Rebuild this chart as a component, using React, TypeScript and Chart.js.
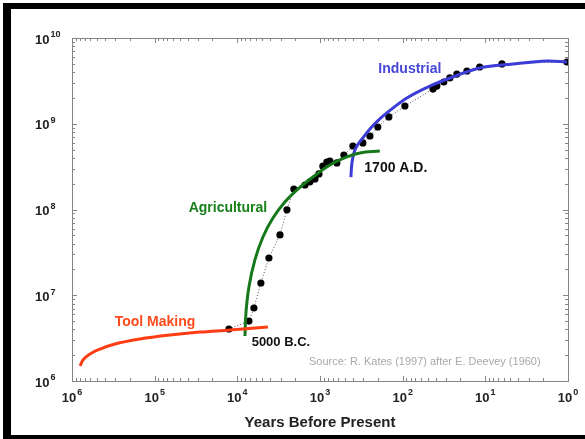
import React, { useEffect, useRef } from 'react';
import { Chart, registerables } from 'chart.js';
Chart.register(...registerables);

// Population observations (years before present, population)
const popYears = [12650, 7240, 6300, 5190, 4150, 3050, 2510, 2070, 1520, 1325, 1150, 1030, 923, 826, 759, 625, 514, 400, 303, 249, 200, 147, 94, 43, 38.6, 31.8, 26.9, 22.1, 16.7, 11.7, 6.3, 1.03];
const popValues = [4.04e6, 5.0e6, 7.1e6, 1.39e7, 2.72e7, 5.05e7, 9.9e7, 1.73e8, 1.93e8, 2.1e8, 2.27e8, 2.6e8, 3.2e8, 3.58e8, 3.68e8, 3.49e8, 4.32e8, 5.5e8, 5.97e8, 7.2e8, 9.16e8, 1.2e9, 1.61e9, 2.54e9, 2.75e9, 3.07e9, 3.42e9, 3.8e9, 4.12e9, 4.59e9, 4.98e9, 5.25e9];

// Tool making curve
const toolYears = [8.0e5, 7.36e5, 6.05e5, 4.58e5, 3.02e5, 1.51e5, 6.5e4, 2.83e4, 1.23e4, 4270];
const toolValues = [1.5e6, 1.76e6, 2.07e6, 2.36e6, 2.7e6, 3.09e6, 3.44e6, 3.72e6, 3.93e6, 4.27e6];

// Agricultural curve
const agriYears = [8090, 7870, 7240, 6130, 4900, 3710, 2660, 1900, 1220, 759, 473, 330, 189];
const agriValues = [3.35e6, 6.2e6, 1.25e7, 2.58e7, 4.78e7, 7.96e7, 1.22e8, 1.69e8, 2.39e8, 3.3e8, 4.1e8, 4.56e8, 4.81e8];

// Industrial curve
const indYears = [423, 411, 389, 358, 311, 249, 189, 135, 89, 46.9, 24.7, 11.7, 4.65, 1.8, 1.03];
const indValues = [2.39e8, 3.48e8, 4.56e8, 5.51e8, 6.64e8, 8.69e8, 1.14e9, 1.49e9, 2.0e9, 2.75e9, 3.51e9, 4.47e9, 4.98e9, 5.4e9, 5.25e9];

// Axis decades (exponents)
const xExponents = [6, 5, 4, 3, 2, 1, 0];
const yExponents = [6, 7, 8, 9, 10];

const xTitle = 'Years Before Present';
const labels = [
  { text: 'Industrial', x: 81.9, y: 4.35e9, color: '#4646d8', font: 'bold 14px "Liberation Sans", Arial, sans-serif' },
  { text: 'Agricultural', x: 1.3e4, y: 1.04e8, color: '#18801a', font: 'bold 14px "Liberation Sans", Arial, sans-serif' },
  { text: '1700 A.D.', x: 121, y: 3.05e8, color: '#111', font: 'bold 14px "Liberation Sans", Arial, sans-serif' },
  { text: 'Tool Making', x: 9.9e4, y: 4.88e6, color: '#ff4a1c', font: 'bold 14px "Liberation Sans", Arial, sans-serif' },
  { text: '5000 B.C.', x: 2970, y: 2.85e6, color: '#111', font: 'bold 13px "Liberation Sans", Arial, sans-serif' },
  { text: 'Source: R. Kates (1997) after E. Deevey (1960)', x: 54, y: 1.67e6, color: '#a8a8a8', font: '11px "Liberation Sans", Arial, sans-serif' },
];

const toXY = (xs: number[], ys: number[]) => xs.map((v, i) => ({ x: v, y: ys[i] }));

const FONT = '"Liberation Sans", Arial, sans-serif';

const drawPow = (ctx: CanvasRenderingContext2D, exp: number, x: number, y: number, align: 'left' | 'center') => {
  ctx.font = `bold 13px ${FONT}`;
  const wb = ctx.measureText('10').width;
  ctx.font = `bold 9px ${FONT}`;
  const we = ctx.measureText(String(exp)).width;
  const total = wb + 1 + we;
  const x0 = align === 'center' ? x - total / 2 : x;
  ctx.textAlign = 'left';
  ctx.textBaseline = 'middle';
  ctx.fillStyle = '#222';
  ctx.font = `bold 13px ${FONT}`;
  ctx.fillText('10', x0, y);
  ctx.font = `bold 9px ${FONT}`;
  ctx.fillText(String(exp), x0 + wb + 1, y - 5);
};

const framePlugin = {
  id: 'framePlugin',
  beforeDatasetsDraw(chart: any) {
    const { ctx, chartArea, scales } = chart;
    const { left, right, top, bottom } = chartArea;
    const xs = scales.x;
    const ys = scales.y;
    ctx.save();
    ctx.strokeStyle = '#858585';
    ctx.lineWidth = 1;
    ctx.strokeRect(Math.round(left) + 0.5, Math.round(top) + 0.5, Math.round(right - left), Math.round(bottom - top));
    ctx.beginPath();
    for (let d = 0; d <= 6; d++) {
      for (let m = 1; m <= 9; m++) {
        if (d === 6 && m > 1) break;
        const v = m * Math.pow(10, d);
        const px = Math.round(xs.getPixelForValue(v)) + 0.5;
        const len = m === 1 ? 5 : 3;
        ctx.moveTo(px, bottom);
        ctx.lineTo(px, bottom - len);
        ctx.moveTo(px, top);
        ctx.lineTo(px, top + len);
      }
    }
    for (let d = 6; d <= 10; d++) {
      for (let m = 1; m <= 9; m++) {
        if (d === 10 && m > 1) break;
        const v = m * Math.pow(10, d);
        const py = Math.round(ys.getPixelForValue(v)) + 0.5;
        const len = m === 1 ? 5 : 3;
        ctx.moveTo(left, py);
        ctx.lineTo(left + len, py);
        ctx.moveTo(right, py);
        ctx.lineTo(right - len, py);
      }
    }
    ctx.stroke();
    ctx.restore();
  },
  afterDraw(chart: any) {
    const { ctx, chartArea, scales } = chart;
    const { left, right, bottom } = chartArea;
    const xs = scales.x;
    const ys = scales.y;
    ctx.save();
    xExponents.forEach((e) => {
      drawPow(ctx, e, xs.getPixelForValue(Math.pow(10, e)), bottom + 17, 'center');
    });
    yExponents.forEach((e) => {
      drawPow(ctx, e, 35, ys.getPixelForValue(Math.pow(10, e)) + 2, 'left');
    });
    ctx.fillStyle = '#222';
    ctx.font = `bold 15px ${FONT}`;
    ctx.textAlign = 'center';
    ctx.textBaseline = 'middle';
    ctx.fillText(xTitle, (left + right) / 2, bottom + 42);
    labels.forEach((l) => {
      ctx.font = l.font;
      ctx.fillStyle = l.color;
      ctx.textAlign = 'center';
      ctx.textBaseline = 'middle';
      ctx.fillText(l.text, xs.getPixelForValue(l.x), ys.getPixelForValue(l.y));
    });
    ctx.restore();
  },
};

export default function App() {
  const ref = useRef<HTMLCanvasElement>(null);
  useEffect(() => {
    if (!ref.current) return;
    const chart = new Chart(ref.current, {
      type: 'scatter',
      data: {
        datasets: [
          {
            data: toXY(toolYears, toolValues),
            showLine: true,
            borderColor: '#ff3d14',
            borderWidth: 3,
            pointRadius: 0,
            cubicInterpolationMode: 'monotone',
          } as any,
          {
            data: toXY(agriYears, agriValues),
            showLine: true,
            borderColor: '#16781a',
            borderWidth: 3,
            pointRadius: 0,
            tension: 0.4,
          } as any,
          {
            data: toXY(indYears, indValues),
            showLine: true,
            borderColor: '#3c3cd6',
            borderWidth: 3,
            pointRadius: 0,
            tension: 0.35,
          } as any,
          {
            data: toXY(popYears, popValues),
            showLine: true,
            borderColor: '#555',
            borderWidth: 1,
            borderDash: [1, 2],
            pointRadius: 3.6,
            pointBackgroundColor: '#000',
            pointBorderColor: '#000',
            pointBorderWidth: 0,
          } as any,
        ],
      },
      options: {
        responsive: false,
        animation: false,
        layout: { padding: { left: 72, right: 17, top: 38, bottom: 58 } },
        plugins: { legend: { display: false }, tooltip: { enabled: false } },
        events: [],
        scales: {
          x: { type: 'logarithmic', reverse: true, min: 1, max: 1e6, display: false },
          y: { type: 'logarithmic', min: 1e6, max: 1e10, display: false },
        },
      },
      plugins: [framePlugin],
    });
    return () => chart.destroy();
  }, []);
  return (
    <div style={{ position: 'fixed', left: 0, top: 0, width: 585, height: 439, overflow: 'hidden', background: '#fff' }}>
      <canvas ref={ref} width={585} height={439} style={{ position: 'absolute', left: 0, top: 0 }} />
      <div
        style={{
          position: 'absolute',
          left: 3,
          top: 3,
          width: 620,
          height: 426,
          borderLeft: '8px solid #000',
          borderTop: '6px solid #000',
          borderBottom: '4px solid #000',
          pointerEvents: 'none',
        }}
      />
    </div>
  );
}
